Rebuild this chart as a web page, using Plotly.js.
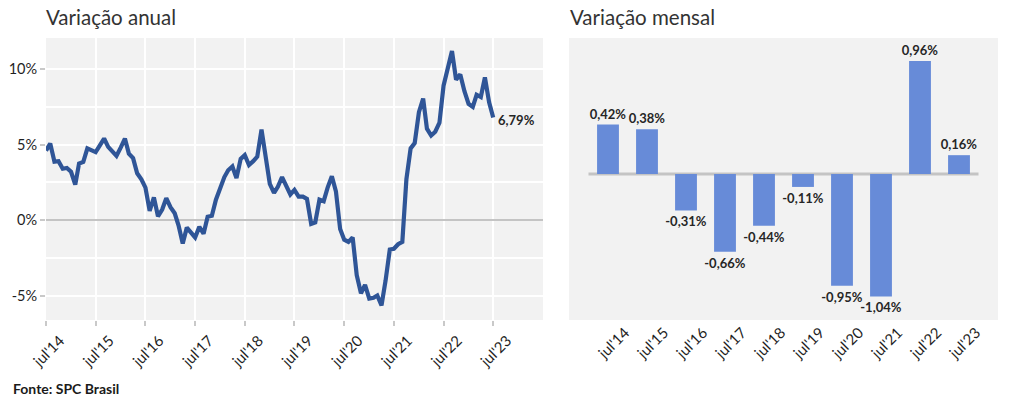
<!DOCTYPE html>
<html>
<head>
<meta charset="utf-8">
<script src="https://cdn.plot.ly/plotly-3.0.1.min.js"></script>
<style>
html,body{margin:0;padding:0;background:#fff;}
#chart{width:1009px;height:405px;}
</style>
</head>
<body>
<div id="chart"></div>
<script>
// ---- Data ----
// Annual variation (%), monthly from jul/2014 to jul/2023
const annualStart = [2014, 7];
const annualValues = [
  4.6, 5.07, 3.87, 3.9, 3.4, 3.45, 3.2, 2.35, 3.75, 3.85, 4.75, 4.6,
  4.5, 4.95, 5.4, 4.85, 4.5, 4.25, 4.8, 5.4, 4.4, 4.1, 3.1, 2.7,
  2.15, 0.6, 1.5, 0.25, 0.7, 1.45, 0.85, 0.45, -0.35, -1.55, -0.5, -0.8,
  -1.15, -0.45, -0.9, 0.22, 0.28, 1.35, 2.2, 2.85, 3.3, 3.55, 2.78, 4.05,
  4.3, 3.65, 3.9, 4.2, 6.0, 4.2, 2.4, 1.8, 2.2, 2.85, 2.2, 1.7,
  2.0, 1.55, 1.55, 1.4, -0.25, -0.15, 1.35, 1.25, 2.15, 2.9, 1.9, -0.6,
  -1.3, -1.45, -1.15, -3.65, -4.85, -4.3, -5.2, -5.15, -5.0, -5.65, -4.0, -1.95,
  -1.9, -1.6, -1.45, 2.7, 4.75, 5.1, 7.15, 8.05, 6.05, 5.6, 5.85, 6.45,
  8.9, 10.15, 11.2, 9.3, 9.65, 8.55, 7.7, 7.5, 8.3, 8.15, 9.45, 7.8,
  6.79
];
const annualLastLabel = "6,79%";
const yearTickDates = ['2014-07-01','2015-07-01','2016-07-01','2017-07-01','2018-07-01',
  '2019-07-01','2020-07-01','2021-07-01','2022-07-01','2023-07-01'];
const yearTickText = ["jul'14","jul'15","jul'16","jul'17","jul'18","jul'19","jul'20","jul'21","jul'22","jul'23"];
const annualYTicks = [-5, 0, 5, 10];
const annualYTickText = ['-5%', '0%', '5%', '10%'];

// Monthly variation (%) in July of each year
const monthlyCategories = ["jul'14","jul'15","jul'16","jul'17","jul'18","jul'19","jul'20","jul'21","jul'22","jul'23"];
const monthlyValues = [0.42, 0.38, -0.31, -0.66, -0.44, -0.11, -0.95, -1.04, 0.96, 0.16];

// ---- Build ----
const annualDates = annualValues.map((_, i) => {
  const t = annualStart[1] - 1 + i;
  const y = annualStart[0] + Math.floor(t / 12);
  const m = (t % 12) + 1;
  return y + '-' + String(m).padStart(2, '0') + '-01';
});
const monthlyText = monthlyValues.map(v => v.toFixed(2).replace('.', ',') + '%');

const FONT = "Lato, 'Open Sans', sans-serif";
const H = 405, W = 1009;
const yDom = [(H - 320) / H, (H - 38) / H];

const traces = [
  {
    type: 'scatter', mode: 'lines',
    x: annualDates, y: annualValues,
    xaxis: 'x', yaxis: 'y',
    line: {color: '#2f5597', width: 4.2},
    hoverinfo: 'skip'
  },
  {
    type: 'bar',
    x: monthlyCategories, y: monthlyValues,
    xaxis: 'x2', yaxis: 'y2',
    marker: {color: '#678bd8'},
    width: 0.56,
    text: monthlyText,
    textposition: 'outside',
    textfont: {family: FONT, size: 13, color: '#262626', weight: 'bold'},
    cliponaxis: false,
    constraintext: 'none',
    hoverinfo: 'skip'
  }
];

const layout = {
  width: W, height: H,
  margin: {l: 0, r: 0, t: 0, b: 0},
  paper_bgcolor: '#ffffff',
  plot_bgcolor: '#f2f2f2',
  showlegend: false,
  separators: ',.',
  font: {family: FONT, color: '#262626'},
  xaxis: {
    domain: [46 / W, 543 / W], anchor: 'y',
    type: 'date',
    range: ['2014-07-01', '2024-07-01'],
    tickvals: yearTickDates, ticktext: yearTickText,
    tickangle: -45,
    ticks: 'outside', ticklen: 5, tickwidth: 2, tickcolor: '#c9c9c9',
    ticklabelshift: 14,
    showgrid: true, gridcolor: '#ffffff', gridwidth: 2,
    zeroline: false, showline: false,
    tickfont: {family: FONT, size: 15, color: '#1f1f1f'}
  },
  yaxis: {
    domain: yDom, anchor: 'x',
    range: [-6.62, 12.06],
    tickvals: annualYTicks, ticktext: annualYTickText,
    ticks: 'outside', ticklen: 5, tickwidth: 2, tickcolor: '#c9c9c9',
    showgrid: true, gridcolor: '#ffffff', gridwidth: 2,
    minor: {tickvals: [-2.5, 2.5, 7.5], showgrid: true, gridcolor: '#ffffff', gridwidth: 2},
    zeroline: true, zerolinecolor: '#c4c4c4', zerolinewidth: 2,
    showline: false,
    tickfont: {family: FONT, size: 14.5, color: '#1f1f1f'}
  },
  xaxis2: {
    domain: [569 / W, 998 / W], anchor: 'y2',
    type: 'category',
    range: [-1, 10],
    tickangle: -45,
    ticks: '',
    ticklabelshift: 17,
    showgrid: false, zeroline: false, showline: false,
    tickfont: {family: FONT, size: 15, color: '#1f1f1f'}
  },
  yaxis2: {
    domain: yDom, anchor: 'x2',
    range: [-1.2405, 1.1555],
    showgrid: false, zeroline: false, showline: false,
    showticklabels: false, ticks: ''
  },
  shapes: [
    {type: 'line', xref: 'x2', yref: 'y2', x0: -0.5, x1: 9.5, y0: 0, y1: 0,
     line: {color: '#c4c4c4', width: 3}, layer: 'below'}
  ],
  annotations: [
    {xref: 'paper', yref: 'paper', x: 44 / W, y: 1 - 17 / H, xanchor: 'left', yanchor: 'middle',
     text: 'Variação anual', showarrow: false, font: {family: FONT, size: 20.5, color: '#333333'}},
    {xref: 'paper', yref: 'paper', x: 568 / W, y: 1 - 17 / H, xanchor: 'left', yanchor: 'middle',
     text: 'Variação mensal', showarrow: false, font: {family: FONT, size: 20.5, color: '#333333'}},
    {xref: 'paper', yref: 'paper', x: 11 / W, y: 1 - 388 / H, xanchor: 'left', yanchor: 'middle',
     text: '<b>Fonte: SPC Brasil</b>', showarrow: false, font: {family: FONT, size: 14, color: '#1a1a1a'}},
    {xref: 'x', yref: 'y', x: annualDates[annualDates.length - 1], y: annualValues[annualValues.length - 1],
     xanchor: 'left', yanchor: 'middle', xshift: 3, yshift: -2,
     text: '<b>' + annualLastLabel + '</b>', showarrow: false, font: {family: FONT, size: 13, color: '#262626'}}
  ]
};

Plotly.newPlot('chart', traces, layout, {staticPlot: true, displayModeBar: false});
</script>
</body>
</html>
